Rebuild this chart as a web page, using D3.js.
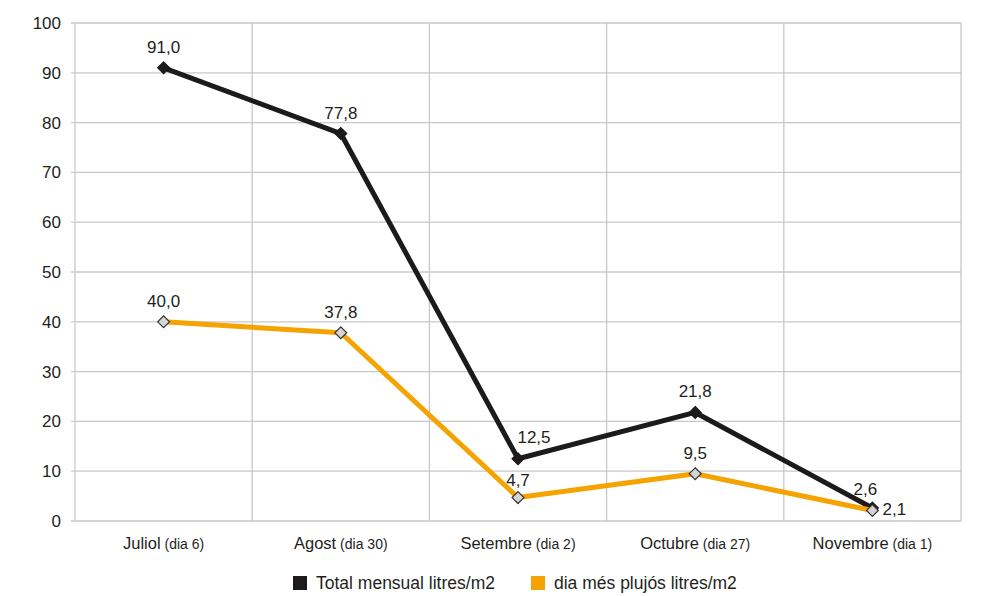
<!DOCTYPE html>
<meta charset="utf-8">
<style>
  body { margin: 0; background: #fff; }
  svg text { font-family: "Liberation Sans", Arial, sans-serif; fill: #231f20; }
</style>
<body>
<div id="chart"></div>
<script src="https://d3js.org/d3.v7.min.js"></script>
<script>
// months and the day of heaviest rain
var months = ["Juliol", "Agost", "Setembre", "Octubre", "Novembre"];
var days = ["(dia 6)", "(dia 30)", "(dia 2)", "(dia 27)", "(dia 1)"];
var totalMensual = [91.0, 77.8, 12.5, 21.8, 2.6];
var diaMesPlujos = [40.0, 37.8, 4.7, 9.5, 2.1];
var yTicks = [0, 10, 20, 30, 40, 50, 60, 70, 80, 90, 100];
var seriesNames = ["Total mensual litres/m2", "dia més plujós litres/m2"];

var width = 981, height = 596;
var margin = {top: 23, right: 20, bottom: 75, left: 75};

var svg = d3.select("#chart").append("svg")
  .attr("width", width)
  .attr("height", height);

var x = d3.scaleBand()
  .domain(months)
  .range([margin.left, width - margin.right]);

var y = d3.scaleLinear()
  .domain([0, 100])
  .range([height - margin.bottom, margin.top]);

var cx = function(i) { return x(months[i]) + x.bandwidth() / 2; };

// grid lines
svg.append("g")
  .selectAll("line.h")
  .data(yTicks)
  .join("line")
    .attr("x1", margin.left - 4)
    .attr("x2", width - margin.right)
    .attr("y1", d => y(d))
    .attr("y2", d => y(d))
    .attr("stroke", "#c8c8c8")
    .attr("stroke-width", 1.3);

var vx = months.map(m => x(m)).concat([width - margin.right]);
svg.append("g")
  .selectAll("line.v")
  .data(vx)
  .join("line")
    .attr("x1", d => d)
    .attr("x2", d => d)
    .attr("y1", y(100))
    .attr("y2", y(0))
    .attr("stroke", "#c8c8c8")
    .attr("stroke-width", 1.3);

// y labels
svg.append("g")
  .selectAll("text")
  .data(yTicks)
  .join("text")
    .attr("x", margin.left - 14)
    .attr("y", d => y(d) + 6)
    .attr("text-anchor", "end")
    .style("font-size", "17px")
    .text(d => d);

// x labels
var xl = svg.append("g")
  .selectAll("text")
  .data(months)
  .join("text")
    .attr("x", (d, i) => cx(i))
    .attr("y", y(0) + 28)
    .attr("text-anchor", "middle")
    .style("font-size", "16.5px");
xl.append("tspan").text(d => d);
xl.append("tspan").style("font-size", "14px").text((d, i) => " " + days[i]);

var line = d3.line()
  .x((d, i) => cx(i))
  .y(d => y(d));

var diamond = d3.symbol().type(d3.symbolDiamond2).size(90);

function drawSeries(vals, color, markFill, markStroke, labelPos) {
  svg.append("path")
    .datum(vals)
    .attr("d", line)
    .attr("fill", "none")
    .attr("stroke", color)
    .attr("stroke-width", 5)
    .attr("stroke-linejoin", "round");
  svg.append("g")
    .selectAll("path")
    .data(vals)
    .join("path")
      .attr("d", diamond)
      .attr("transform", (d, i) => "translate(" + cx(i) + "," + y(d) + ")")
      .attr("fill", markFill)
      .attr("stroke", markStroke)
      .attr("stroke-width", 1.2);
  svg.append("g")
    .selectAll("text")
    .data(vals)
    .join("text")
      .attr("x", (d, i) => cx(i) + labelPos[i][0])
      .attr("y", (d, i) => y(d) + labelPos[i][1])
      .attr("text-anchor", "middle")
      .style("font-size", "17px")
      .text(d => d3.format(".1f")(d).replace(".", ","));
}

drawSeries(totalMensual, "#1c1a1b", "#1c1a1b", "#1c1a1b",
  [[0, -15], [0, -15], [16, -16], [0, -15], [-7, -13]]);
drawSeries(diaMesPlujos, "#f4a300", "#d4d4d4", "#333",
  [[0, -15], [0, -15], [0, -12], [0, -15], [22, 4]]);

// legend
var legend = svg.append("g");
var lx = [293, 531];
var lc = ["#1c1a1b", "#f4a300"];
seriesNames.forEach(function(n, i) {
  legend.append("rect")
    .attr("x", lx[i]).attr("y", 576)
    .attr("width", 14).attr("height", 14)
    .attr("fill", lc[i]);
  legend.append("text")
    .attr("x", lx[i] + 23).attr("y", 589)
    .style("font-size", "17.5px")
    .text(n);
});
</script>
</body>
